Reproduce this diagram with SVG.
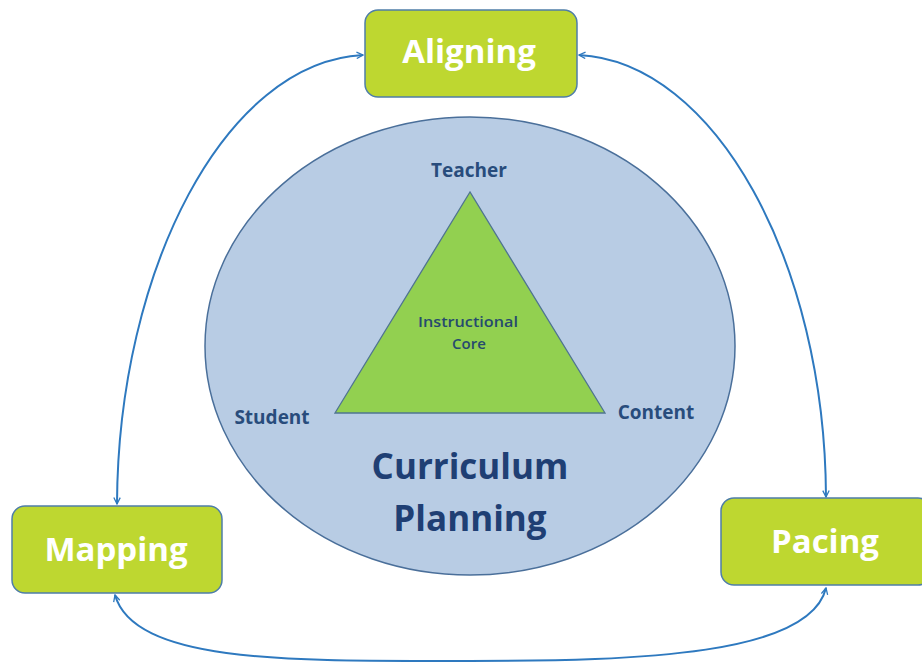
<svg xmlns="http://www.w3.org/2000/svg" width="922" height="662" viewBox="0 0 922 662">
<style>
.box{fill:#bed730;stroke:#4f7ea8;stroke-width:1.5}
.bt{font-family:"Open Sans",Lato,sans-serif;font-weight:bold;font-size:33px;fill:#ffffff;text-anchor:middle}
.lbl{font-family:"Open Sans",Lato,sans-serif;font-weight:bold;font-size:19px;fill:#284c7c;text-anchor:middle}
.big{font-family:"Open Sans",Lato,sans-serif;font-weight:bold;font-size:35px;fill:#1f3f74;text-anchor:middle}
.sm{font-family:"Open Sans",Lato,sans-serif;font-weight:600;font-size:15px;fill:#264a6e;text-anchor:middle}
.conn{fill:none;stroke:#2e79bf;stroke-width:2}
</style>
<defs>
<marker id="ah" viewBox="0 0 10 10" refX="9" refY="5" markerWidth="8" markerHeight="8" orient="auto-start-reverse" markerUnits="userSpaceOnUse">
<path d="M1,1 L9,5 L1,9" fill="none" stroke="#2e79bf" stroke-width="1.6"/>
</marker>
</defs>
<rect width="922" height="662" fill="#ffffff"/>
<g id="planning">
<ellipse cx="470" cy="346" rx="265" ry="229" fill="#b8cce4" stroke="#4a6f9a" stroke-width="1.5"/>
<text class="big" x="470" y="479">Curriculum</text>
<text class="big" x="470" y="531">Planning</text>
</g>
<g id="core">
<polygon points="470,192 335,413 605,413" fill="#92d050" stroke="#4f7490" stroke-width="1.3"/>
<text class="sm" x="468" y="327" textLength="100" lengthAdjust="spacingAndGlyphs">Instructional</text>
<text class="sm" x="469" y="349">Core</text>
</g>
<g id="teacher"><text class="lbl" x="469" y="177">Teacher</text></g>
<g id="student"><text class="lbl" x="272" y="424">Student</text></g>
<g id="content"><text class="lbl" x="656" y="419">Content</text></g>
<g id="connectors">
<path class="conn" d="M117,504 C118,270 225,62 363,55" marker-start="url(#ah)" marker-end="url(#ah)"/>
<path class="conn" d="M826,497 C825,262 715,62 579,55" marker-start="url(#ah)" marker-end="url(#ah)"/>
<path class="conn" d="M115,595 C135,665 300,661 470,661 C640,661 810,655 826,588" marker-start="url(#ah)" marker-end="url(#ah)"/>
</g>
<g id="aligning">
<rect class="box" x="365" y="10" width="212" height="87" rx="13"/>
<text class="bt" x="469" y="63">Aligning</text>
</g>
<g id="mapping">
<rect class="box" x="12" y="506" width="210" height="87" rx="13"/>
<text class="bt" x="116" y="561">Mapping</text>
</g>
<g id="pacing">
<rect class="box" x="721" y="498" width="210" height="87" rx="13"/>
<text class="bt" x="825" y="553">Pacing</text>
</g>
</svg>
